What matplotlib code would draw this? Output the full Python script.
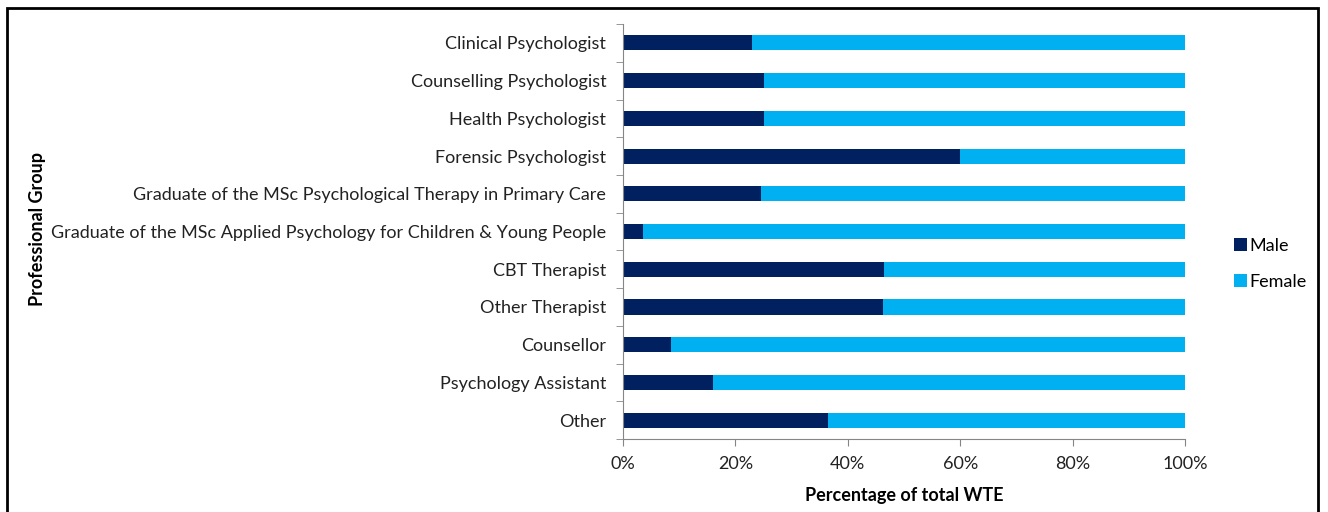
import numpy as np
import matplotlib.pyplot as plt
from matplotlib.patches import Rectangle

plt.rcParams['font.family'] = ['Lato', 'DejaVu Sans']

groups = ['Clinical Psychologist', 'Counselling Psychologist', 'Health Psychologist',
          'Forensic Psychologist',
          'Graduate of the MSc Psychological Therapy in Primary Care',
          'Graduate of the MSc Applied Psychology for Children & Young People',
          'CBT Therapist', 'Other Therapist', 'Counsellor', 'Psychology Assistant', 'Other']
male = [23.0, 25.1, 25.1, 60.0, 24.5, 3.5, 46.4, 46.2, 8.5, 16.1, 36.4]
female = [100 - m for m in male]
xticks = [0, 20, 40, 60, 80, 100]

fs = 13
fig = plt.figure(figsize=(13.28, 5.12), dpi=100)
ax = fig.add_axes([0.4691, 0.1426, 0.8923 - 0.4691, 0.953 - 0.1426])

y = np.arange(len(groups))[::-1]
ax.barh(y, male, height=0.4, color='#002060', label='Male')
ax.barh(y, female, left=male, height=0.4, color='#00b0f0', label='Female')

ax.set_xlim(0, 100)
ax.set_ylim(-0.5, len(groups) - 0.5)
ax.set_xticks(xticks)
ax.set_xticklabels([f'{v}%' for v in xticks], fontsize=fs, color='#222222')
ax.set_yticks(y)
ax.set_yticklabels(groups, fontsize=fs, color='#222222')
ax.set_yticks(np.arange(len(groups) + 1) - 0.5, minor=True)
ax.tick_params(axis='y', which='major', length=0, pad=12)
ax.tick_params(axis='y', which='minor', length=5, color='#868686')
ax.tick_params(axis='x', length=5, color='#868686', pad=7)
for s in ['top', 'right']:
    ax.spines[s].set_visible(False)
for s in ['left', 'bottom']:
    ax.spines[s].set_color('#868686')

ax.set_xlabel('Percentage of total WTE', fontsize=fs, fontweight='bold', labelpad=11)
fig.text(0.028, 0.553, 'Professional Group', rotation=90, fontsize=fs,
         fontweight='bold', ha='center', va='center')

fig.legend(loc='center left', bbox_to_anchor=(0.917, 0.485), frameon=False,
           fontsize=fs, handlelength=0.7, handleheight=0.7, handletextpad=0.15,
           labelspacing=1.1)

fig.patches.append(Rectangle((7 / 1328, -0.05), (1318 - 7) / 1328, 1.05 - 8 / 512,
                             transform=fig.transFigure, fill=False,
                             edgecolor='black', linewidth=2))

fig.savefig('out.png')
